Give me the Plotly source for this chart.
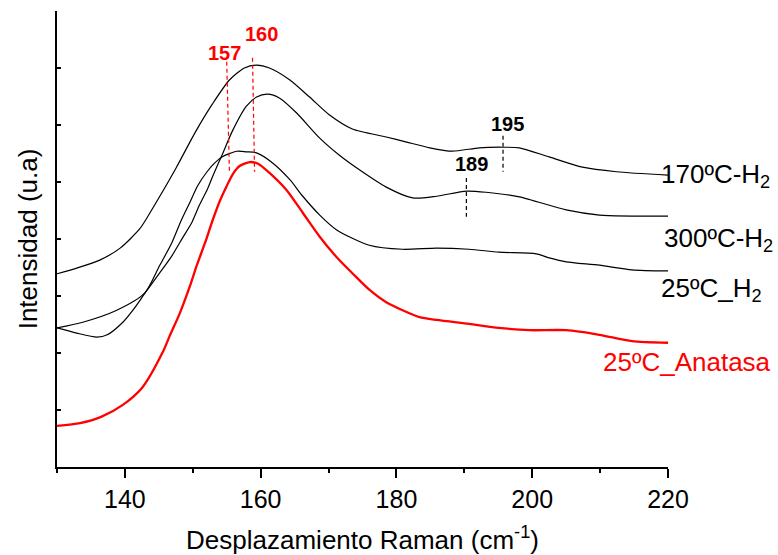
import plotly.graph_objects as go

# Raman shift (cm-1) and intensity (arb. units)
x_170 = [130.0, 132.9, 136.3, 139.3, 142.2, 143.7, 145.1, 147.6, 150.4, 152.9, 155.4, 157.6, 159.4,
         161.3, 164.3, 167.2, 170.1, 173.5, 178.5, 181.5, 184.9, 188.2, 192.2, 195.6, 198.1, 202.5,
         207.4, 212.4, 220.0]
y_170 = [3.39, 3.49, 3.63, 3.84, 4.18, 4.46, 4.74, 5.26, 5.88, 6.37, 6.79, 7.00, 7.05,
         7.00, 6.79, 6.49, 6.18, 5.93, 5.79, 5.70, 5.60, 5.54, 5.60, 5.61, 5.60, 5.44,
         5.26, 5.18, 5.12]

x_300 = [130.0, 132.9, 135.9, 137.4, 139.7, 141.3, 142.9, 145.1, 146.9, 148.5, 149.9, 151.0, 152.1,
         153.0, 154.3, 155.9, 157.9, 159.4, 161.0, 162.8, 165.3, 168.7, 171.6, 174.6, 178.5, 182.4,
         185.9, 190.3, 193.2, 198.1, 205.0, 209.9, 220.0]
y_300 = [2.44, 2.35, 2.28, 2.32, 2.54, 2.77, 3.04, 3.40, 3.70, 4.02, 4.30, 4.60, 4.86,
         5.12, 5.47, 5.91, 6.33, 6.49, 6.54, 6.47, 6.21, 5.77, 5.47, 5.21, 4.91, 4.72,
         4.75, 4.84, 4.82, 4.74, 4.51, 4.42, 4.40]

x_25h = [130.0, 133.8, 138.8, 142.9, 145.1, 146.9, 148.2, 149.6, 150.7, 152.1, 153.2, 154.3, 156.5,
         157.9, 159.4, 161.8, 164.3, 166.2, 168.7, 171.2, 176.0, 180.9, 185.9, 190.7, 195.1, 200.6,
         202.5, 205.0, 209.9, 214.7, 220.0]
y_25h = [2.44, 2.54, 2.75, 3.05, 3.53, 3.93, 4.30, 4.65, 4.93, 5.18, 5.33, 5.44, 5.54,
         5.53, 5.51, 5.33, 5.04, 4.75, 4.42, 4.16, 3.89, 3.82, 3.84, 3.82, 3.77, 3.74,
         3.67, 3.60, 3.54, 3.46, 3.44]

x_ana = [130.0, 133.4, 136.5, 139.7, 142.6, 145.6, 146.6, 148.1, 149.6, 150.6, 151.8, 152.9, 154.0,
         155.0, 155.9, 156.9, 158.4, 159.6, 161.3, 163.8, 166.2, 168.7, 171.2, 173.5, 176.0, 178.5,
         180.9, 183.4, 185.9, 190.7, 195.1, 199.6, 205.0, 209.9, 214.7, 220.0]
y_ana = [0.72, 0.77, 0.88, 1.09, 1.40, 2.02, 2.30, 2.70, 3.18, 3.54, 3.93, 4.32, 4.67,
         4.93, 5.14, 5.28, 5.35, 5.32, 5.16, 4.86, 4.46, 4.04, 3.68, 3.40, 3.11, 2.89,
         2.75, 2.63, 2.58, 2.51, 2.44, 2.40, 2.40, 2.32, 2.21, 2.18]

series_names = ["170ºC-H<sub>2</sub>", "300ºC-H<sub>2</sub>", "25ºC_H<sub>2</sub>", "25ºC_Anatasa"]
series_colors = ["black", "black", "black", "#ff0000"]

# Peak markers: label, x positions (top, bottom), y span, label position, colour
peak_labels = ["157", "160", "195", "189"]
peak_x_top = [155.0, 158.8, 195.7, 190.3]
peak_x_bot = [155.4, 159.1, 195.7, 190.3]
peak_y_top = [7.11, 7.18, 5.81, 5.07]
peak_y_bot = [5.16, 5.18, 5.18, 4.39]
peak_lab_x = [154.7, 160.1, 196.3, 191.0]
peak_lab_y = [7.26, 7.60, 6.02, 5.32]
peak_colors = ["#ff0000", "#ff0000", "black", "black"]

FONT = "Liberation Sans, Arial, sans-serif"

fig = go.Figure()
xs = [x_170, x_300, x_25h, x_ana]
ys = [y_170, y_300, y_25h, y_ana]
widths = [1.2, 1.2, 1.2, 2.3]
for xv, yv, c, w, n in zip(xs, ys, series_colors, widths, series_names):
    fig.add_trace(go.Scatter(x=xv, y=yv, mode="lines", name=n,
                             line=dict(color=c, width=w, shape="spline", smoothing=0.7),
                             showlegend=False))

for lab, xt, xb, yt, yb, lx, ly, c in zip(peak_labels, peak_x_top, peak_x_bot, peak_y_top,
                                         peak_y_bot, peak_lab_x, peak_lab_y, peak_colors):
    fig.add_shape(type="line", x0=xt, x1=xb, y0=yt, y1=yb, xref="x", yref="y",
                  line=dict(color=c, width=1.2, dash="4px,3px"))
    fig.add_annotation(x=lx, y=ly, xref="x", yref="y", text="<b>" + lab + "</b>",
                       showarrow=False, font=dict(family=FONT, size=20, color=c),
                       xanchor="center", yanchor="middle")

# Series labels at the right
label_x = [218.7, 219.1, 218.7, 210.1]
label_y = [5.12, 4.00, 3.12, 1.84]
for t, lx, ly, c in zip(series_names, label_x, label_y, series_colors):
    fig.add_annotation(x=lx, y=ly, xref="x", yref="y", text=t, showarrow=False,
                       font=dict(family=FONT, size=26, color=c),
                       xanchor="left", yanchor="middle")

fig.update_layout(
    width=778, height=555,
    margin=dict(l=57, r=110, t=11, b=88),
    paper_bgcolor="white", plot_bgcolor="white",
    font=dict(family=FONT, color="black"),
)
fig.update_xaxes(
    range=[130, 220], tickmode="linear", tick0=140, dtick=20, automargin=False,
    ticks="outside", ticklen=9, tickwidth=1.5, tickcolor="black",
    minor=dict(tick0=130, dtick=10, ticks="outside", ticklen=4, tickwidth=1.5, tickcolor="black"),
    showline=True, linecolor="black", linewidth=1.5, showgrid=False, zeroline=False,
    tickfont=dict(family=FONT, size=25, color="black"),
    title=dict(text="Desplazamiento Raman (cm<sup>-1</sup>)", font=dict(family=FONT, size=26), standoff=22),
)
fig.update_yaxes(
    range=[0, 8], tickmode="array", tickvals=[1, 2, 3, 4, 5, 6, 7], automargin=False,
    ticks="inside", ticklen=4, tickwidth=1.5, tickcolor="black", showticklabels=False,
    showline=True, linecolor="black", linewidth=1.5, showgrid=False, zeroline=False,
    title=dict(text="Intensidad (u.a)", font=dict(family=FONT, size=26), standoff=10),
)

fig.write_html("out.html")
